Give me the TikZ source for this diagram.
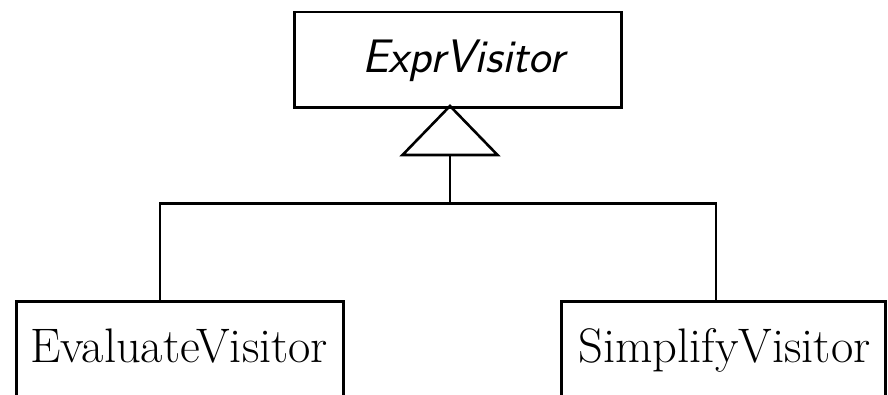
\documentclass[tikz,border=0pt]{standalone}
\usepackage{fontspec}
\begin{document}
\begin{tikzpicture}[x=1pt,y=-1pt,line width=2.6pt,
  classbox/.style={draw,rectangle,inner sep=0pt},
  bigrm/.style={font=\fontsize{48.5}{56}\selectfont},
  bigsf/.style={font=\fontsize{47}{56}\selectfont\sffamily\itshape}]
  \useasboundingbox (0,0) rectangle (888,394);
  \clip (0,0) rectangle (888,394);

  % abstract visitor at the top
  \node[classbox,bigsf,align=center,text width=327pt,text height=60pt,text depth=35.3pt,
        anchor=north west] (expr) at (293,10.7) {\hspace*{11pt}ExprVisitor};

  % concrete visitors, their boxes run on past the lower edge
  \node[classbox,bigrm,align=left,text width=327pt,text height=61pt,text depth=70pt,
        anchor=north west] (eval) at (15,300) {\hspace*{14pt}EvaluateVisitor};
  \node[classbox,bigrm,align=left,text width=324pt,text height=61pt,text depth=70pt,
        anchor=north west] (simp) at (560,300) {\hspace*{17pt}SimplifyVisitor};

  % generalization: hollow triangle and the fork below it
  \coordinate (apex) at (450,106);
  \coordinate (tribase) at (450,155);
  \coordinate (fork) at (450,203.7);
  \coordinate (lj) at (160,203.7);
  \coordinate (rj) at (716,203.7);

  \draw (apex) -- ++(-47.5,49) -- ++(95,0) -- cycle;
  \draw (tribase) -- (fork);
  \draw (eval.north -| lj) -- (lj) -- (rj) -- (simp.north -| rj);
\end{tikzpicture}
\end{document}
